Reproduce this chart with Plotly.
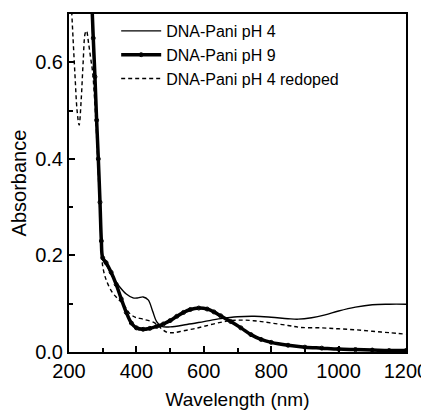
import plotly.graph_objects as go

# DNA-Pani pH 4
ph4_x = [265, 270, 275, 280, 287, 292, 297, 302, 315, 330, 350, 370, 390, 405, 420, 435, 448, 460, 475, 500,
         550, 600, 650, 700, 750, 800, 850, 880, 920, 960, 1000, 1050, 1100, 1150, 1200]
ph4_y = [0.75, 0.66, 0.58, 0.50, 0.39, 0.29, 0.21, 0.19, 0.175, 0.155, 0.135, 0.12, 0.112, 0.112, 0.114, 0.108,
         0.085, 0.063, 0.053, 0.052, 0.057, 0.063, 0.069, 0.073, 0.074, 0.072, 0.069, 0.068, 0.071, 0.077, 0.085,
         0.093, 0.098, 0.099, 0.099]

# DNA-Pani pH 9
ph9_x = [268, 272, 277, 282, 287, 292, 296, 300, 310, 325, 340, 355, 370, 385, 400, 420, 440, 460, 480, 500,
         520, 540, 560, 585, 610, 630, 650, 680, 710, 740, 770, 800, 850, 900, 950, 1000, 1050, 1100, 1150, 1200]
ph9_y = [0.72, 0.65, 0.57, 0.48, 0.40, 0.31, 0.23, 0.195, 0.185, 0.165, 0.14, 0.11, 0.082, 0.06, 0.05, 0.047,
         0.049, 0.053, 0.058, 0.065, 0.074, 0.082, 0.088, 0.091, 0.089, 0.083, 0.075, 0.063, 0.05, 0.036, 0.026,
         0.02, 0.014, 0.01, 0.008, 0.006, 0.005, 0.004, 0.003, 0.003]

# DNA-Pani pH 4 redoped
red_x = [207, 212, 218, 224, 230, 236, 242, 248, 252, 258, 264, 270, 278, 285, 291, 296, 300, 310, 327, 345,
         360, 380, 396, 420, 455, 475, 490, 510, 540, 570, 600, 640, 680, 720, 760, 800, 850, 885, 950, 1000,
         1050, 1100, 1150, 1200]
red_y = [0.72, 0.65, 0.57, 0.50, 0.47, 0.52, 0.60, 0.66, 0.665, 0.64, 0.61, 0.58, 0.50, 0.40, 0.30, 0.22, 0.178,
         0.15, 0.125, 0.11, 0.10, 0.08, 0.072, 0.068, 0.06, 0.048, 0.041, 0.04, 0.044, 0.048, 0.053, 0.06, 0.065,
         0.066, 0.064, 0.06, 0.055, 0.051, 0.05, 0.048, 0.046, 0.043, 0.04, 0.037]

x_ticks = [200, 400, 600, 800, 1000, 1200]
y_ticks = [0.0, 0.2, 0.4, 0.6]

fig = go.Figure()
fig.add_trace(go.Scatter(x=ph4_x, y=ph4_y, mode="lines", name="DNA-Pani pH 4",
                         line=dict(color="black", width=1.4, shape="spline")))
fig.add_trace(go.Scatter(x=ph9_x, y=ph9_y, mode="lines+markers", name="DNA-Pani pH 9",
                         line=dict(color="black", width=3.5, shape="spline"),
                         marker=dict(symbol="circle-open", size=4, color="black", line=dict(width=1))))
fig.add_trace(go.Scatter(x=red_x, y=red_y, mode="lines", name="DNA-Pani pH 4 redoped",
                         line=dict(color="black", width=1.4, dash="4px,3px", shape="spline")))

font_fam = "Liberation Sans, Arial, sans-serif"
fig.update_layout(
    width=421, height=403,
    margin=dict(l=61, r=23, t=6, b=59, autoexpand=False),
    paper_bgcolor="white", plot_bgcolor="white",
    font=dict(family=font_fam, color="black"),
    showlegend=True,
    legend=dict(x=0.14, y=1.0, xanchor="left", yanchor="top", bgcolor="rgba(0,0,0,0)",
                font=dict(size=16, family=font_fam), tracegroupgap=0, itemwidth=40),
    xaxis=dict(range=[200, 1200], tickvals=x_ticks, ticktext=[str(v) for v in x_ticks], automargin=False,
               ticklabeloverflow="allow",
               ticks="inside", ticklen=6, tickwidth=1.5, tickcolor="black",
               minor=dict(ticks="inside", dtick=100, ticklen=4, tickcolor="black"),
               showline=True, linecolor="black", linewidth=2, mirror=True, showgrid=False, zeroline=False,
               tickfont=dict(size=20), title=dict(text="Wavelength (nm)", font=dict(size=19), standoff=12)),
    yaxis=dict(range=[0, 0.7], tickvals=y_ticks, ticktext=["0.0", "0.2", "0.4", "0.6"], automargin=False,
               ticklabeloverflow="allow",
               ticks="inside", ticklen=6, tickwidth=1.5, tickcolor="black",
               minor=dict(ticks="inside", dtick=0.1, ticklen=4, tickcolor="black"),
               showline=True, linecolor="black", linewidth=2, mirror=True, showgrid=False, zeroline=False,
               tickfont=dict(size=20), title=dict(text="Absorbance", font=dict(size=20), standoff=4)),
)
fig.write_html("out.html")
